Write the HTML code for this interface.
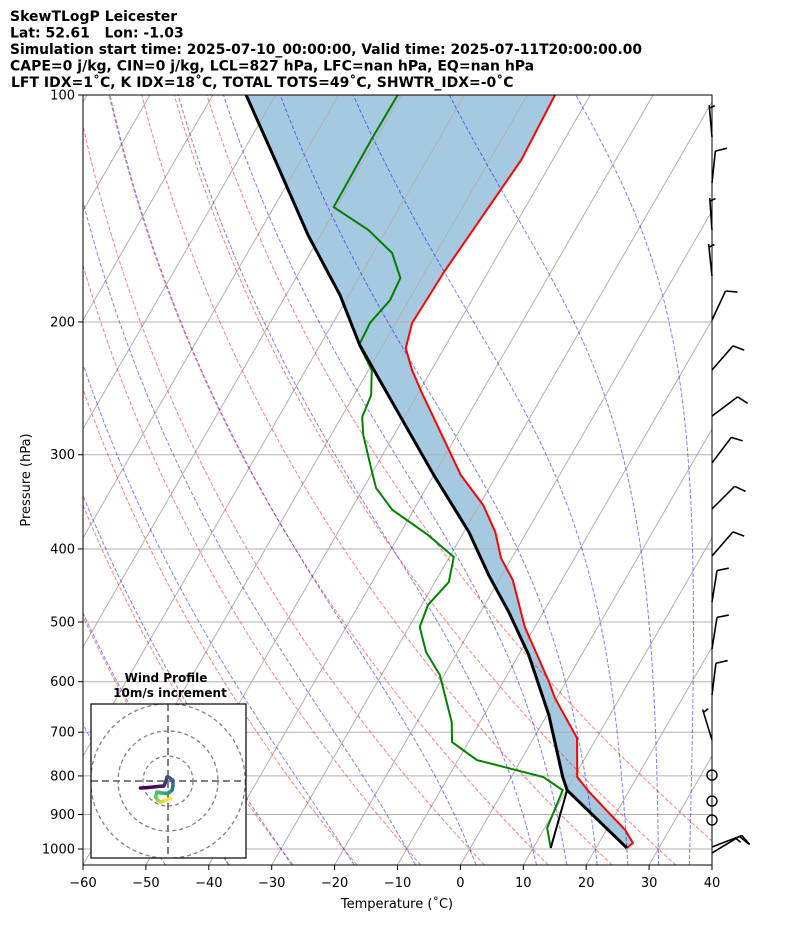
<!DOCTYPE html>
<html><head><meta charset="utf-8"><style>
body{margin:0;background:#fff;width:794px;height:937px;overflow:hidden;font-family:"DejaVu Sans","Liberation Sans",sans-serif;}
svg{position:absolute;left:0;top:0}
</style></head><body>
<svg id="chart" width="794" height="937" viewBox="0 0 794 937" xmlns="http://www.w3.org/2000/svg">
<defs><clipPath id="pc"><rect x="83" y="95" width="629" height="770"/></clipPath>
<clipPath id="hc"><rect x="91" y="704" width="155" height="154"/></clipPath></defs>
<g font-weight="bold" font-size="14" fill="#000">
<text x="10" y="21">SkewTLogP Leicester</text>
<text x="10" y="37.5" xml:space="preserve">Lat: 52.61   Lon: -1.03</text>
<text x="10" y="54" textLength="632" lengthAdjust="spacingAndGlyphs">Simulation start time: 2025-07-10_00:00:00, Valid time: 2025-07-11T20:00:00.00</text>
<text x="10" y="70.5">CAPE=0 j/kg, CIN=0 j/kg, LCL=827 hPa, LFC=nan hPa, EQ=nan hPa</text>
<text x="11" y="87">LFT IDX=1˚C, K IDX=18˚C, TOTAL TOTS=49˚C, SHWTR_IDX=-0˚C</text>
</g>
<g id="plot" clip-path="url(#pc)"></g>
<g id="axes"></g>
<g id="barbs"></g>
<g id="hodo"></g>
</svg>
<script>
// ---- data ----
const tempP = [100,121.9,142.1,171.7,200.6,216.6,231.6,248.5,319.2,349.8,379.8,411.3,439.9,507.6,600.5,630.6,712.6,802.7,840.5,896.4,943.7,981.8,996.9];
const tempT = [-55.6,-55.0,-55.9,-57.0,-57.4,-56.1,-53.1,-49.4,-35.7,-29.4,-25.0,-21.7,-17.8,-11.6,-2.7,-0.3,6.9,10.5,13.8,18.9,23.0,25.4,24.9];
const dewP = [100,114.0,140.8,151.0,162.0,174.8,187.1,200.6,214.6,231.6,250.0,267.4,282.4,319.2,332.0,355.0,383.4,410.0,442.5,474.8,507.6,548.0,587.8,678.6,721.4,762.1,802.7,835.5,937.9,996.9];
const dewT = [-80.6,-80.7,-80.5,-72.9,-67.0,-63.4,-63.0,-64.1,-63.8,-59.5,-57.3,-56.7,-54.9,-49.7,-48.0,-43.4,-35.4,-29.3,-27.8,-29.0,-28.3,-25.0,-20.7,-14.5,-12.6,-7.0,5.1,9.4,10.4,12.8];
const parcelP = [100,122.7,153.4,184.3,214.6,250.0,319.2,379.8,433.2,485.1,553.0,664.2,802.7,835.5,996.9];
const parcelT = [-104.7,-93.8,-82.0,-71.4,-63.7,-54.6,-40.0,-29.2,-22.1,-15.5,-8.4,0.3,8.2,10.1,24.9];
const lclLineP = [996.9,835.5];
const lclLineT = [12.8,10.1];
const yTicks = [100,200,300,400,500,600,700,800,900,1000];
const xTicks = [-60,-50,-40,-30,-20,-10,0,10,20,30,40];
const dryT0 = [-40,-30,-20,-10,0,10,20,30,40];
const moistT0 = [-50,-40,-30,-20,-10,0,10,15,20,25,30,35,40];
const barbP = [113.7,130.8,151,173.8,198.8,231.6,266.6,307.6,354,408.7,470.5,542.9,624.9,717,993.8,1012];
const barbDir = [355,6,356,354,25,41,53,37,45,41,9,9,7,343,69,59];
const barbSpd = [5,10,5,5,10,10,10,10,10,10,10,10,10,5,10,15];
const calmP = [797.9,863.8,915.3];
const hodoU = [-11,-9,-7,-5,-3,-1.7,-1.2,-0.8,-0.4,0.5,1.9,2,1.6,0.6,-0.4,-2.5,-4.4,-5,-4,-3,-1.1,1.0];
const hodoV = [-2.8,-2.7,-2.5,-2.3,-2.1,-2,-1,0,1.6,1.4,0.3,-1.8,-3.7,-4.5,-5,-4.8,-4.4,-6.4,-7.8,-8.4,-7.7,-7];

// ---- scales ----
const NS='http://www.w3.org/2000/svg';
function yP(p){return 95+754*Math.log10(p/100);}
function xTP(T,p){return 83+(T+60)*6.29+(865-yP(p))*0.577;}
function mk(tag,attrs,parent){const e=document.createElementNS(NS,tag);for(const k in attrs)e.setAttribute(k,attrs[k]);parent.appendChild(e);return e;}
function pathFrom(Ts,Ps){return Ts.map((t,i)=>(i?'L':'M')+xTP(t,Ps[i]).toFixed(2)+','+yP(Ps[i]).toFixed(2)).join('');}
const plot=document.getElementById('plot'),axes=document.getElementById('axes');

// fill between temperature and parcel
let fd=pathFrom(tempT,tempP);
for(let i=parcelP.length-1;i>=0;i--)fd+='L'+xTP(parcelT[i],parcelP[i]).toFixed(2)+','+yP(parcelP[i]).toFixed(2);
let fill=mk('path',{d:fd+'Z',fill:'#1f77b4','fill-opacity':'0.4',stroke:'none'},plot);



// horizontal grid
yTicks.forEach(p=>{let l=mk('line',{x1:83,x2:712,y1:yP(p),y2:yP(p),stroke:'#b0b0b0','stroke-width':1},plot);

});
// isotherms
for(let T=-170;T<=40;T+=10){let l=mk('line',{x1:xTP(T,1050),y1:yP(1050),x2:xTP(T,100),y2:yP(100),stroke:'#b0b0b0','stroke-width':1},plot);

}
// dry adiabats
dryT0.forEach(t0=>{const th=t0+273.15;let d='';for(let p=1050;p>=100;p-=10){const T=th*Math.pow(p/1000,0.2857)-273.15;d+=(p==1050?'M':'L')+xTP(T,p).toFixed(2)+','+yP(p).toFixed(2);}
let e=mk('path',{d:d,fill:'none',stroke:'#ff0000','stroke-opacity':0.5,'stroke-width':1,'stroke-dasharray':'4,2'},plot);

});
// moist adiabats
function dTdp(T,p){const Tc=T-273.15;const es=6.112*Math.exp(17.67*Tc/(Tc+243.5));const rs=0.622*es/(p-es);const Rd=287.04,Cp=1005.7,Lv=2.501e6;
return (1/p)*(Rd*T+Lv*rs)/(Cp+Lv*Lv*rs*0.622/(Rd*T*T));}
function integ(T0,p0,p1,dp){const pts=[];let T=T0,p=p0;pts.push([T,p]);const n=Math.round(Math.abs(p1-p0)/Math.abs(dp));for(let i=0;i<n;i++){const h=dp;const k1=dTdp(T,p),k2=dTdp(T+h*k1/2,p+h/2),k3=dTdp(T+h*k2/2,p+h/2),k4=dTdp(T+h*k3,p+h);T+=h*(k1+2*k2+2*k3+k4)/6;p+=h;pts.push([T,p]);}return pts;}
moistT0.forEach(t0=>{const up=integ(t0+273.15,1000,100,-5);const dn=integ(t0+273.15,1000,1050,5);const pts=dn.reverse().concat(up.slice(1));
const d=pts.map((q,i)=>(i?'L':'M')+xTP(q[0]-273.15,q[1]).toFixed(2)+','+yP(q[1]).toFixed(2)).join('');
let e=mk('path',{d:d,fill:'none',stroke:'#0000ff','stroke-opacity':0.5,'stroke-width':1,'stroke-dasharray':'4,2'},plot);

});
// profiles
let tl=mk('path',{d:pathFrom(tempT,tempP),fill:'none',stroke:'#ff0000','stroke-width':2},plot);


let dl=mk('path',{d:pathFrom(dewT,dewP),fill:'none',stroke:'#008000','stroke-width':2},plot);


let pl=mk('path',{d:pathFrom(parcelT,parcelP),fill:'none',stroke:'#000','stroke-width':3,'stroke-linejoin':'round'},plot);


let ll=mk('path',{d:pathFrom(lclLineT,lclLineP),fill:'none',stroke:'#000','stroke-width':2},plot);



// axes frame & ticks
let fr=mk('rect',{x:83,y:95,width:629,height:770,fill:'none',stroke:'#000','stroke-width':1},axes);


yTicks.forEach(p=>{const y=yP(p);mk('line',{x1:78,x2:83,y1:y,y2:y,stroke:'#000'},axes);
let t=mk('text',{x:75,y:y+4.5,'text-anchor':'end','font-size':13},axes);t.textContent=p;

});
xTicks.forEach(T=>{const x=83+(T+60)*6.29;mk('line',{x1:x,x2:x,y1:865,y2:870,stroke:'#000'},axes);
let t=mk('text',{x:x,y:887,'text-anchor':'middle','font-size':13},axes);t.textContent=(T<0?'\u2212'+(-T):T);

});
let xt=mk('text',{x:397,y:908,'text-anchor':'middle','font-size':13},axes);xt.textContent='Temperature (˚C)';


let yt=mk('text',{x:30,y:480,'text-anchor':'middle','font-size':13,transform:'rotate(-90 30 480)'},axes);yt.textContent='Pressure (hPa)';



// wind barbs
const bg=document.getElementById('barbs');
barbP.forEach((p,i)=>{const a=barbDir[i]*Math.PI/180;const L=32;const bx=712,by=yP(p);
const ux=Math.sin(a),uy=-Math.cos(a);const tx=bx+ux*L,ty=by+uy*L;
const fa=a+70*Math.PI/180;const fx=Math.sin(fa),fy=-Math.cos(fa);
let d='M'+bx+','+by+'L'+tx+','+ty;let s=barbSpd[i];let pos=0;
while(s>=10){const sx=tx-ux*pos,sy=ty-uy*pos;d+='M'+sx+','+sy+'l'+fx*12+','+fy*12;s-=10;pos+=4;}
if(s>=5){if(pos==0)pos=3;const sx=tx-ux*pos,sy=ty-uy*pos;d+='M'+sx+','+sy+'l'+fx*6+','+fy*6;}
let e=mk('path',{d:d,fill:'none',stroke:'#000','stroke-width':1.6},bg);

});
calmP.forEach(p=>{let c=mk('circle',{cx:712,cy:yP(p),r:5,fill:'none',stroke:'#000','stroke-width':1.4},bg);

});

// hodograph
const hg=document.getElementById('hodo');
let ht1=mk('text',{x:166,y:682,'text-anchor':'middle','font-size':12,'font-weight':'bold'},hg);ht1.textContent='Wind Profile';


let ht2=mk('text',{x:170,y:697,'text-anchor':'middle','font-size':12,'font-weight':'bold'},hg);ht2.textContent='10m/s increment';


let hb=mk('rect',{x:91,y:704,width:155,height:154,fill:'#fff',stroke:'none'},hg);


const hin=mk('g',{'clip-path':'url(#hc)'},hg);
const cx=168,cy=781,k=2.5;
[10,20,30].forEach(r=>{let c=mk('circle',{cx:cx,cy:cy,r:r*k*(r==30?1.03:1),fill:'none',stroke:'#808080','stroke-width':1.3,'stroke-dasharray':'4,3'},hin);

});
mk('line',{x1:91,x2:246,y1:cy,y2:cy,stroke:'#808080','stroke-width':2,'stroke-dasharray':'7,4'},hin);
mk('line',{x1:cx,x2:cx,y1:704,y2:858,stroke:'#808080','stroke-width':2,'stroke-dasharray':'7,4'},hin);
function viridis(t){const c=[[68,1,84],[59,82,139],[33,145,140],[94,201,98],[253,231,37]];const s=t*(c.length-1);const i=Math.min(Math.floor(s),c.length-2);const f=s-i;
return 'rgb('+c[i].map((v,j)=>Math.round(v+(c[i+1][j]-v)*f)).join(',')+')';}
for(let i=0;i<hodoU.length-1;i++){const t=i/(hodoU.length-2);let s=mk('line',{x1:cx+hodoU[i]*k,y1:cy-hodoV[i]*k,x2:cx+hodoU[i+1]*k,y2:cy-hodoV[i+1]*k,stroke:viridis(Math.pow(t,1.6)),'stroke-width':3.5,'stroke-linecap':'round'},hin);

}
let hf=mk('rect',{x:91,y:704,width:155,height:154,fill:'none',stroke:'#000','stroke-width':1.2},hg);


</script>
</body></html>
